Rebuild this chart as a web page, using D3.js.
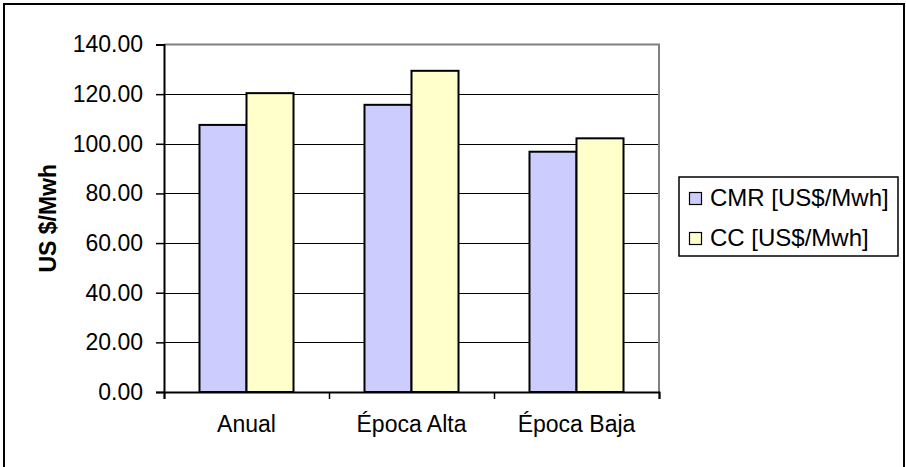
<!DOCTYPE html>
<html>
<head>
<meta charset="utf-8">
<script src="https://cdn.jsdelivr.net/npm/d3@7"></script>
<style>
  body { margin: 0; background: #fff; }
  svg text { font-family: "Liberation Sans", Arial, sans-serif; fill: #000; }
</style>
</head>
<body>
<div id="chart"></div>
<script>
// Data
var categories = ["Anual", "Época Alta", "Época Baja"];
var seriesNames = ["CMR [US$/Mwh]", "CC [US$/Mwh]"];
var cmrValues = [107.6, 115.7, 96.8];
var ccValues = [120.4, 129.4, 102.2];
var yTickValues = [0, 20, 40, 60, 80, 100, 120, 140];
var seriesColors = ["#CCCCFF", "#FFFFCC"];
var yTitle = "US $/Mwh";

var width = 906, height = 467;

// Plot area
var plot = {left: 164, right: 659, top: 44.5, bottom: 392};

var svg = d3.select("#chart")
            .append("svg")
            .attr("width", width)
            .attr("height", height);

// Outer frame
svg.append("rect")
   .attr("x", 4).attr("y", 4)
   .attr("width", 900).attr("height", 470)
   .attr("fill", "none")
   .attr("stroke", "#000")
   .attr("stroke-width", 2);

// Scales
var y = d3.scaleLinear().domain([0, 140]).range([plot.bottom, plot.top]);

var x0 = d3.scaleBand()
           .domain(categories)
           .range([plot.left, plot.right])
           .paddingInner(0).paddingOuter(0);

var x1 = d3.scaleBand()
           .domain(seriesNames)
           .range([0, x0.bandwidth()])
           .paddingInner(0).paddingOuter(0.755);

var xEdges = d3.scaleLinear().domain([0, categories.length]).range([plot.left, plot.right]);

// Gridlines (black), top one is plot border (gray)
svg.append("g")
   .selectAll("line")
   .data(yTickValues.filter(function(d) { return d > 0 && d < 140; }))
   .enter().append("line")
   .attr("x1", plot.left).attr("x2", plot.right)
   .attr("y1", function(d) { return Math.round(y(d)) + 0.5; })
   .attr("y2", function(d) { return Math.round(y(d)) + 0.5; })
   .attr("stroke", "#000")
   .attr("stroke-width", 1.2);

// Plot border top and right (gray)
svg.append("path")
   .attr("d", "M" + plot.left + "," + plot.top + "H" + plot.right + "V" + plot.bottom)
   .attr("fill", "none")
   .attr("stroke", "#808080")
   .attr("stroke-width", 2);

// Bars
var rows = categories.map(function(c, i) {
    return {category: c, values: [cmrValues[i], ccValues[i]]};
});

svg.append("g")
   .selectAll("g")
   .data(rows)
   .enter().append("g")
   .attr("transform", function(d) { return "translate(" + x0(d.category) + ",0)"; })
   .selectAll("rect")
   .data(function(d) { return d.values.map(function(v, j) { return {name: seriesNames[j], value: v, idx: j}; }); })
   .enter().append("rect")
   .attr("x", function(d) { return x1(d.name); })
   .attr("width", x1.bandwidth())
   .attr("y", function(d) { return y(d.value); })
   .attr("height", function(d) { return y(0) - y(d.value); })
   .attr("fill", function(d) { return seriesColors[d.idx]; })
   .attr("stroke", "#000")
   .attr("stroke-width", 2);

// Y axis
var leftAxis = d3.axisLeft(y)
                 .tickValues(yTickValues)
                 .tickFormat(d3.format(".2f"))
                 .tickSize(8)
                 .tickPadding(13);

var gy = svg.append("g")
            .attr("transform", "translate(" + plot.left + ",0)")
            .call(leftAxis);
gy.select(".domain").attr("stroke", "#000").attr("stroke-width", 2);
gy.selectAll(".tick line").attr("stroke", "#000").attr("stroke-width", 1.5);
gy.selectAll("text").style("font-size", "23px").attr("fill", "#000");

// X axis: ticks at category edges
var edgeAxis = d3.axisBottom(xEdges)
                 .tickValues(d3.range(0, categories.length + 1))
                 .tickFormat("")
                 .tickSize(7);
var gx = svg.append("g")
            .attr("transform", "translate(0," + plot.bottom + ")")
            .call(edgeAxis);
gx.select(".domain").attr("stroke", "#000").attr("stroke-width", 2);
gx.selectAll(".tick line").attr("stroke", "#000").attr("stroke-width", 1.5);

// X labels
var labelAxis = d3.axisBottom(x0).tickSize(0).tickPadding(24);
var gl = svg.append("g")
            .attr("transform", "translate(0," + plot.bottom + ")")
            .call(labelAxis);
gl.select(".domain").remove();
gl.selectAll("text").style("font-size", "23px").attr("fill", "#000");

// Y title
svg.append("text")
   .attr("transform", "translate(56," + ((plot.top + plot.bottom) / 2) + ") rotate(-90)")
   .attr("text-anchor", "middle")
   .style("font-size", "23px")
   .style("font-weight", "bold")
   .text(yTitle);

// Legend
var legend = svg.append("g").attr("transform", "translate(679,177)");
legend.append("rect")
      .attr("x", 0).attr("y", 0)
      .attr("width", 219).attr("height", 79)
      .attr("fill", "#fff")
      .attr("stroke", "#000")
      .attr("stroke-width", 1.5);

var items = legend.selectAll("g.item")
                  .data(seriesNames)
                  .enter().append("g")
                  .attr("class", "item")
                  .attr("transform", function(d, i) { return "translate(0," + (i * 40) + ")"; });

items.append("rect")
     .attr("x", 10.5).attr("y", 15.5)
     .attr("width", 12).attr("height", 12)
     .attr("fill", function(d, i) { return seriesColors[i]; })
     .attr("stroke", "#000")
     .attr("stroke-width", 1.2);

items.append("text")
     .attr("x", 31).attr("y", 29)
     .style("font-size", "24px")
     .text(function(d) { return d; });
</script>
</body>
</html>
